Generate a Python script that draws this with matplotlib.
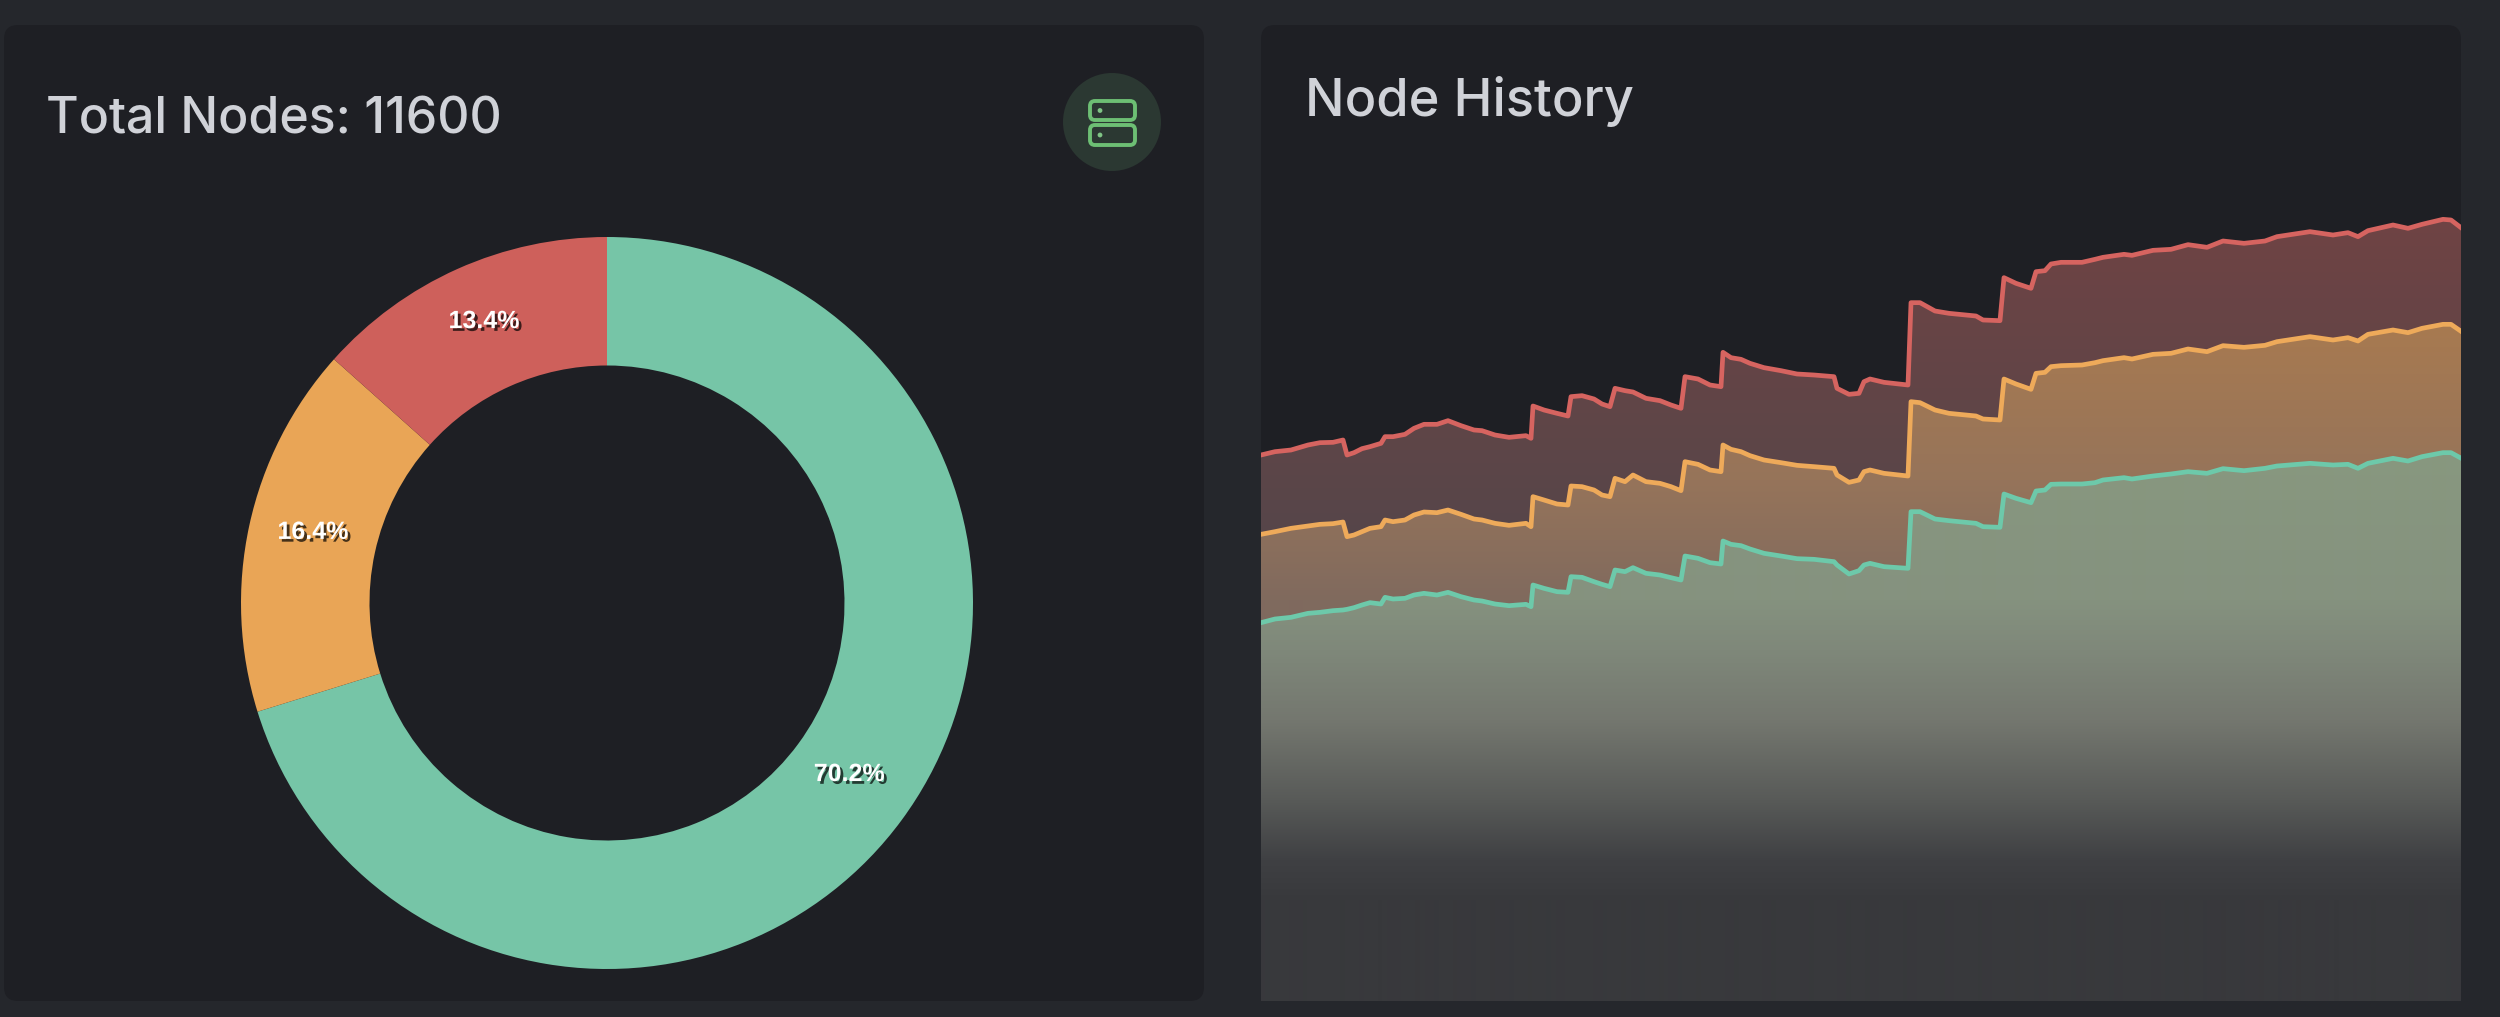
import numpy as np
import matplotlib
matplotlib.use('Agg')
import matplotlib.pyplot as plt
import matplotlib.patheffects as pe
from matplotlib.colors import to_rgb
from matplotlib.patches import FancyBboxPatch, Circle

W, H = 2500, 1017

# donut shares
share_labels = ['Online', 'Degraded', 'Offline']
shares = [70.2, 16.4, 13.4]

# node history, stacked totals at each sample
hours = [0, 14, 30, 47, 59, 72, 82, 86, 93, 101, 109, 120, 124, 132, 144, 153, 163, 176, 187, 200,
         213, 221, 234, 248, 265, 270, 272, 283, 296, 307, 310, 321, 333, 341, 349, 354, 364, 372, 385, 399,
         410, 420, 424, 437, 449, 460, 462, 470, 480, 489, 503, 520, 536, 553, 573, 576, 588, 598, 603, 609,
         623, 647, 650, 659, 674, 688, 715, 722, 739, 743, 755, 770, 775, 784, 790, 800, 821, 834, 842, 863,
         871, 892, 910, 927, 946, 962, 983, 1004, 1016, 1049, 1072, 1087, 1097, 1107, 1132, 1147, 1161, 1182, 1190, 1200]
online = [5675, 5730, 5755, 5815, 5830, 5855, 5865, 5875, 5900, 5940, 5975, 5955, 6055, 6030, 6040, 6090, 6115, 6090, 6130, 6065,
          6015, 6000, 5955, 5930, 5950, 5915, 6240, 6190, 6140, 6130, 6365, 6355, 6290, 6250, 6215, 6465, 6440, 6500, 6415, 6390,
          6350, 6315, 6675, 6640, 6575, 6555, 6900, 6850, 6830, 6780, 6715, 6675, 6635, 6625, 6590, 6540, 6405, 6455, 6540, 6565,
          6515, 6490, 7340, 7340, 7230, 7205, 7165, 7115, 7105, 7605, 7540, 7475, 7650, 7665, 7750, 7755, 7755, 7775, 7815, 7850,
          7830, 7875, 7905, 7940, 7915, 7985, 7955, 7990, 8025, 8065, 8040, 8050, 7990, 8065, 8140, 8100, 8165, 8225, 8225, 8143]
online_degraded = [7000, 7040, 7090, 7125, 7150, 7160, 7185, 6965, 6990, 7040, 7090, 7115, 7215, 7190, 7215, 7290, 7335, 7325, 7365, 7300,
                   7230, 7215, 7165, 7135, 7165, 7115, 7565, 7515, 7455, 7440, 7725, 7715, 7665, 7590, 7565, 7840, 7790, 7890, 7790, 7765,
                   7715, 7655, 8090, 8050, 7965, 7940, 8340, 8275, 8240, 8180, 8115, 8075, 8035, 8015, 7990, 7890, 7780, 7815, 7940, 7965,
                   7915, 7875, 8990, 8975, 8865, 8815, 8775, 8730, 8715, 9330, 9255, 9175, 9415, 9430, 9515, 9530, 9540, 9575, 9605, 9650,
                   9630, 9700, 9715, 9780, 9740, 9830, 9805, 9835, 9890, 9965, 9915, 9950, 9900, 10000, 10065, 10025, 10090, 10150, 10150, 10046]
total = [8190, 8240, 8265, 8340, 8375, 8380, 8415, 8190, 8225, 8285, 8315, 8365, 8465, 8465, 8500, 8590, 8650, 8650, 8705, 8630,
         8565, 8555, 8490, 8455, 8480, 8440, 8925, 8865, 8815, 8775, 9065, 9080, 9030, 8955, 8915, 9190, 9155, 9135, 9040, 9005,
         8940, 8890, 9365, 9330, 9240, 9215, 9730, 9650, 9625, 9565, 9500, 9455, 9405, 9390, 9365, 9190, 9100, 9115, 9290, 9330,
         9280, 9240, 10475, 10475, 10350, 10315, 10275, 10215, 10205, 10850, 10765, 10690, 10940, 10955, 11055, 11080, 11080, 11125, 11155, 11200,
         11185, 11260, 11275, 11345, 11305, 11400, 11365, 11400, 11465, 11540, 11490, 11525, 11465, 11555, 11640, 11590, 11650, 11725, 11715, 11600]

page_bg = '#25272c'
panel_bg = '#1e1f24'
title_color = '#d0d2d8'
GREEN, ORANGE, RED = '#76c5a7', '#e9a556', '#ce605b'
LINE_GREEN, LINE_ORANGE, LINE_RED = '#6dc9aa', '#eeaa5a', '#d66460'

plt.rcParams['font.family'] = ['Inter', 'DejaVu Sans']

fig = plt.figure(figsize=(W/100, H/100), dpi=100, facecolor=page_bg)

# background layer in pixel coordinates: cards, titles, icon
bg = fig.add_axes([0, 0, 1, 1])
bg.set_xlim(0, W)
bg.set_ylim(H, 0)
bg.axis('off')

def card(x0, y0, x1, y1, r=14):
    bg.add_patch(FancyBboxPatch((x0+r, y0+r), x1-x0-2*r, y1-y0-2*r, boxstyle='round,pad=%d,rounding_size=%d' % (r, r),
                                fc=panel_bg, ec='none'))

card(4, 25, 1204, 1001)
card(1261, 25, 2461, 1001)

bg.text(46, 134, 'Total Nodes: 11600', color=title_color, fontsize=36, fontweight='medium', va='baseline', ha='left')
bg.text(1305, 116, 'Node History', color=title_color, fontsize=37.7, fontweight='medium', va='baseline', ha='left')

# server icon
bg.add_patch(Circle((1112, 122), 49, fc='#2b3832', ec='none'))
for top, bot in [(101, 120), (125, 145)]:
    bg.add_patch(FancyBboxPatch((1095, top+5), 35, bot-top-10, boxstyle='round,pad=5,rounding_size=5',
                                fc='none', ec='#6dbf74', lw=2.8))
    bg.add_patch(Circle((1100, (top+bot)/2), 2.4, fc='#7fc585', ec='none'))

# donut
ax = fig.add_axes([(607-366)/W, (H-603-366)/H, 732/W, 732/H])
wedges, texts, pcts = ax.pie(shares, colors=[GREEN, ORANGE, RED], startangle=90, counterclock=False, radius=1,
                             wedgeprops=dict(width=1-237.5/366, linewidth=0), autopct='%.1f%%', pctdistance=0.822,
                             textprops=dict(color='white', fontsize=18, fontweight='bold', family='Liberation Sans'))
for t in pcts:
    x, y = t.get_position()
    t.set_position((x, y+0.02))
    t.set_path_effects([pe.withSimplePatchShadow(offset=(2, -2), shadow_rgbFace='black', alpha=0.7)])
ax.set_xlim(-1, 1)
ax.set_ylim(-1, 1)

# stacked history
ax2 = fig.add_axes([1261/W, (H-1001)/H, 1200/W, 851/H])
ax2.set_xlim(0, 1200)
ax2.set_ylim(0, 12765)
ax2.axis('off')
ax2.patch.set_alpha(0)

rows = np.arange(150, 1001)

def band(lo, hi, stops, line_color):
    # vertical gradient clipped to the area between two cumulative series
    ys = [s[0] for s in stops]
    cols = np.array([to_rgb(s[1]) for s in stops])
    grad = np.stack([np.interp(rows, ys, cols[:, i]) for i in range(3)], axis=1)[:, None, :]
    poly = ax2.fill_between(hours, lo, hi, facecolor='none', edgecolor='none')
    im = ax2.imshow(grad, extent=[0, 1200, 0, 12765], aspect='auto', origin='upper', interpolation='bilinear', zorder=1)
    im.set_clip_path(poly.get_paths()[0], ax2.transData)
    return ax2.plot(hours, hi, color=line_color, lw=3.4, solid_joinstyle='round', zorder=3)

band(np.zeros(len(hours)), online,
     [(450, '#88987f'), (600, '#85927f'), (650, '#7f887a'), (720, '#74776f'), (800, '#585a58'), (860, '#3f4043'), (900, '#38393c'), (1001, '#38393c')],
     LINE_GREEN)
band(online, online_degraded,
     [(320, '#a87a50'), (480, '#96745a'), (600, '#806a5e'), (680, '#7a6a60')],
     LINE_ORANGE)
band(online_degraded, total,
     [(220, '#6f4344'), (400, '#614547'), (550, '#55464a')],
     LINE_RED)
ax2.set_xlim(0, 1200)
ax2.set_ylim(0, 12765)

fig.savefig('out.png', dpi=100, facecolor=page_bg)
